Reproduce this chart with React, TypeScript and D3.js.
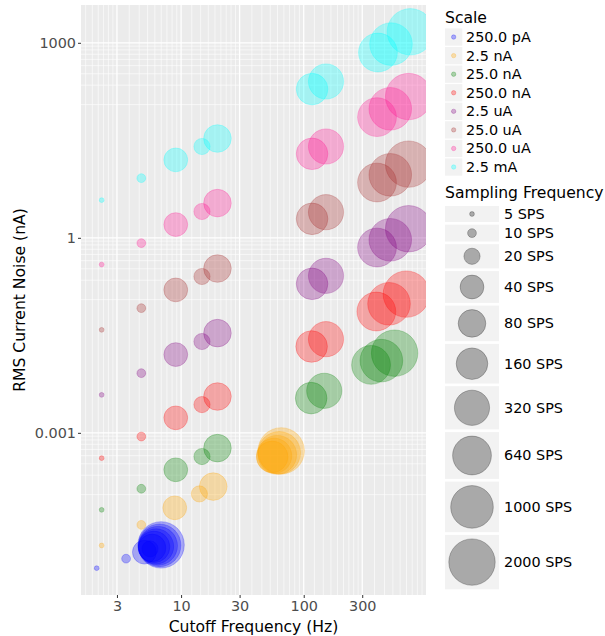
import * as d3 from "d3";
import { useRef, useEffect } from "react";

const scaleLabels = ["250.0 pA", "2.5 nA", "25.0 nA", "250.0 nA", "2.5 uA", "25.0 uA", "250.0 uA", "2.5 mA"];
const scaleColors = ["#0000ff", "#ffa500", "#008000", "#ff0000", "#800080", "#a52a2a", "#ff1493", "#00ffff"];
const samplingRates = [5, 10, 20, 40, 80, 160, 320, 640, 1000, 2000];
const rateLabels = ["5 SPS", "10 SPS", "20 SPS", "40 SPS", "80 SPS", "160 SPS", "320 SPS", "640 SPS", "1000 SPS", "2000 SPS"];
// radius (px) of each sampling-rate size class
const rateRadius = [2.4, 4.4, 8.1, 11.9, 13.8, 15.8, 17.6, 19.4, 21.3, 23.2];

// cutoff frequency (Hz), one row per scale, columns follow samplingRates
const cutoffHz = [
  [2.05, 3.56, 5.58, 5.02, 5.8, 6.02, 6.25, 6.49, 6.68, 6.87],
  [2.25, 4.74, 14.1, 8.88, 18.3, 55.3, 57.4, 60.8, 63.1, 65.5],
  [2.25, 4.74, 14.8, 9.05, 19.8, 115, 147, 354, 430, 551],
  [2.25, 4.74, 14.8, 9.05, 19.8, 116, 152, 391, 496, 687],
  [2.25, 4.74, 14.8, 9.05, 19.8, 117, 152, 396, 508, 717],
  [2.25, 4.74, 14.8, 9.05, 19.8, 117, 152, 396, 508, 717],
  [2.25, 4.74, 14.8, 9.05, 19.8, 117, 152, 396, 508, 717],
  [2.25, 4.74, 14.8, 9.05, 19.8, 117, 152, 403, 515, 740],
];

// RMS current noise (nA), same layout
const noiseNA = [
  [8.28e-6, 1.16e-5, 1.64e-5, 1.46e-5, 1.7e-5, 1.76e-5, 1.79e-5, 1.83e-5, 1.86e-5, 1.89e-5],
  [1.85e-5, 3.84e-5, 1.15e-4, 7.02e-5, 1.49e-4, 4.27e-4, 4.43e-4, 4.59e-4, 4.92e-4, 5.28e-4],
  [6.54e-5, 1.38e-4, 4.32e-4, 2.7e-4, 5.82e-4, 0.00342, 0.00443, 0.0111, 0.0129, 0.0168],
  [0.000408, 0.000877, 0.00272, 0.0017, 0.00362, 0.0213, 0.0276, 0.0735, 0.0966, 0.136],
  [0.00384, 0.00828, 0.0254, 0.016, 0.0342, 0.196, 0.26, 0.709, 0.932, 1.38],
  [0.0384, 0.0828, 0.254, 0.158, 0.337, 1.96, 2.48, 7.09, 9.31, 13.6],
  [0.388, 0.829, 2.54, 1.6, 3.42, 19.6, 25.4, 71.9, 96.5, 149],
  [3.8, 8.28, 25.4, 15.8, 33.7, 194, 254, 709, 955, 1476],
];

const xBreaks = [3, 10, 30, 100, 300];
const xGridMajors = [1, 3, 10, 30, 100, 300, 1000];
const yBreaks = [0.001, 1, 1000];
const yGridMajors = [1e-6, 0.001, 1, 1000, 1e6];

const width = 605;
const height = 636;
const panel = { left: 81, right: 426, top: 5, bottom: 595 };
const alpha = 0.3;
const font = "DejaVu Sans";

// ggplot-like 5% expansion on a log axis
const logDomain = (vals: number[]) => {
  const logs = vals.map(Math.log10);
  const lo = d3.min(logs)!;
  const hi = d3.max(logs)!;
  const pad = (hi - lo) * 0.05;
  return [10 ** (lo - pad), 10 ** (hi + pad)];
};

// minor grid: 8 evenly spaced values between consecutive majors
const minorBetween = (majors: number[]) =>
  d3.pairs(majors).flatMap(([a, b]) => d3.range(1, 9).map((k) => a + (k * (b - a)) / 9));

export default function App() {
  const svgRef = useRef<SVGSVGElement>(null);

  useEffect(() => {
    const svg = d3.select(svgRef.current);
    svg.selectAll("*").remove();

    const points = scaleLabels.flatMap((s, i) =>
      samplingRates.map((r, j) => ({ scale: i, rate: j, f: cutoffHz[i][j], n: noiseNA[i][j] }))
    );

    const x = d3.scaleLog().domain(logDomain(points.map((d) => d.f))).range([panel.left, panel.right]);
    const y = d3.scaleLog().domain(logDomain(points.map((d) => d.n))).range([panel.bottom, panel.top]);
    const radius = d3.scaleOrdinal<number, number>().domain(d3.range(samplingRates.length)).range(rateRadius);

    svg
      .append("defs")
      .append("clipPath")
      .attr("id", "panel-clip")
      .append("rect")
      .attr("x", panel.left)
      .attr("y", panel.top)
      .attr("width", panel.right - panel.left)
      .attr("height", panel.bottom - panel.top);

    svg
      .append("rect")
      .attr("x", panel.left)
      .attr("y", panel.top)
      .attr("width", panel.right - panel.left)
      .attr("height", panel.bottom - panel.top)
      .attr("fill", "#ebebeb");

    const grid = svg.append("g").attr("clip-path", "url(#panel-clip)").attr("stroke", "white");

    grid
      .selectAll(".x-minor")
      .data(minorBetween(xGridMajors))
      .join("line")
      .attr("x1", (d) => x(d))
      .attr("x2", (d) => x(d))
      .attr("y1", panel.top)
      .attr("y2", panel.bottom)
      .attr("stroke-width", 0.6);

    grid
      .selectAll(".y-minor")
      .data(minorBetween(yGridMajors))
      .join("line")
      .attr("y1", (d) => y(d))
      .attr("y2", (d) => y(d))
      .attr("x1", panel.left)
      .attr("x2", panel.right)
      .attr("stroke-width", 0.6);

    grid
      .selectAll(".x-major")
      .data(xBreaks)
      .join("line")
      .attr("x1", (d) => x(d))
      .attr("x2", (d) => x(d))
      .attr("y1", panel.top)
      .attr("y2", panel.bottom)
      .attr("stroke-width", 1.3);

    grid
      .selectAll(".y-major")
      .data(yBreaks)
      .join("line")
      .attr("y1", (d) => y(d))
      .attr("y2", (d) => y(d))
      .attr("x1", panel.left)
      .attr("x2", panel.right)
      .attr("stroke-width", 1.3);

    // points
    svg
      .append("g")
      .attr("clip-path", "url(#panel-clip)")
      .selectAll("circle")
      .data(points)
      .join("circle")
      .attr("cx", (d) => x(d.f))
      .attr("cy", (d) => y(d.n))
      .attr("r", (d) => radius(d.rate))
      .attr("fill", (d) => scaleColors[d.scale])
      .attr("fill-opacity", alpha)
      .attr("stroke", (d) => scaleColors[d.scale])
      .attr("stroke-opacity", alpha)
      .attr("stroke-width", 0.8);

    // axes
    const styleAxis = (g: d3.Selection<SVGGElement, unknown, null, undefined>) => {
      g.attr("font-family", font).attr("font-size", 14.4);
      g.select(".domain").remove();
      g.selectAll(".tick line").attr("stroke", "#333333").attr("stroke-width", 1);
      g.selectAll(".tick text").attr("fill", "#4d4d4d");
    };

    svg
      .append("g")
      .attr("transform", `translate(0,${panel.bottom})`)
      .call(d3.axisBottom(x).tickValues(xBreaks).tickFormat(d3.format("~g")).tickSize(3).tickPadding(3))
      .call(styleAxis);

    svg
      .append("g")
      .attr("transform", `translate(${panel.left},0)`)
      .call(d3.axisLeft(y).tickValues(yBreaks).tickFormat(d3.format("~g")).tickSize(3).tickPadding(2))
      .call(styleAxis);

    svg
      .append("text")
      .attr("x", (panel.left + panel.right) / 2)
      .attr("y", 632)
      .attr("text-anchor", "middle")
      .attr("font-family", font)
      .attr("font-size", 15.6)
      .text("Cutoff Frequency (Hz)");

    svg
      .append("text")
      .attr("transform", `translate(25,${(panel.top + panel.bottom) / 2}) rotate(-90)`)
      .attr("text-anchor", "middle")
      .attr("font-family", font)
      .attr("font-size", 15.6)
      .text("RMS Current Noise (nA)");

    // legend: Scale
    const lx = 445;
    const legend = svg.append("g").attr("font-family", font);
    legend.append("text").attr("x", lx).attr("y", 23).attr("font-size", 15.6).text("Scale");

    const keySize = 17.3;
    const scaleKeys = legend
      .selectAll(".scale-key")
      .data(scaleLabels)
      .join("g")
      .attr("transform", (d, i) => `translate(${lx},${28.4 + i * 18.57})`);
    scaleKeys.append("rect").attr("width", keySize).attr("height", keySize).attr("fill", "#f2f2f2");
    scaleKeys
      .append("circle")
      .attr("cx", keySize / 2)
      .attr("cy", keySize / 2)
      .attr("r", 2.2)
      .attr("fill", (d, i) => scaleColors[i])
      .attr("fill-opacity", alpha)
      .attr("stroke", (d, i) => scaleColors[i])
      .attr("stroke-opacity", alpha)
      .attr("stroke-width", 0.8);
    scaleKeys
      .append("text")
      .attr("x", 21)
      .attr("y", keySize / 2 + 5)
      .attr("font-size", 14.4)
      .text((d) => d);

    // legend: Sampling Frequency
    legend.append("text").attr("x", lx).attr("y", 198).attr("font-size", 15.6).text("Sampling Frequency");

    const keyW = 54;
    const keyH = rateRadius.map((r) => Math.max(16, 2 * r + 8));
    const keyTop = keyH.map((h, i) => 206 + d3.sum(keyH.slice(0, i)) + i * 2.7);
    const rateKeys = legend
      .selectAll(".rate-key")
      .data(rateLabels)
      .join("g")
      .attr("transform", (d, i) => `translate(${lx},${keyTop[i]})`);
    rateKeys.append("rect").attr("width", keyW).attr("height", (d, i) => keyH[i]).attr("fill", "#f2f2f2");
    rateKeys
      .append("circle")
      .attr("cx", keyW / 2)
      .attr("cy", (d, i) => keyH[i] / 2)
      .attr("r", (d, i) => radius(i))
      .attr("fill", "black")
      .attr("fill-opacity", alpha)
      .attr("stroke", "black")
      .attr("stroke-opacity", alpha)
      .attr("stroke-width", 0.8);
    rateKeys
      .append("text")
      .attr("x", 59)
      .attr("y", (d, i) => keyH[i] / 2 + 5)
      .attr("font-size", 14.4)
      .text((d) => d);
  }, []);

  return (
    <svg
      ref={svgRef}
      width={width}
      height={height}
      style={{ position: "absolute", left: 0, top: 0, background: "white" }}
    />
  );
}
